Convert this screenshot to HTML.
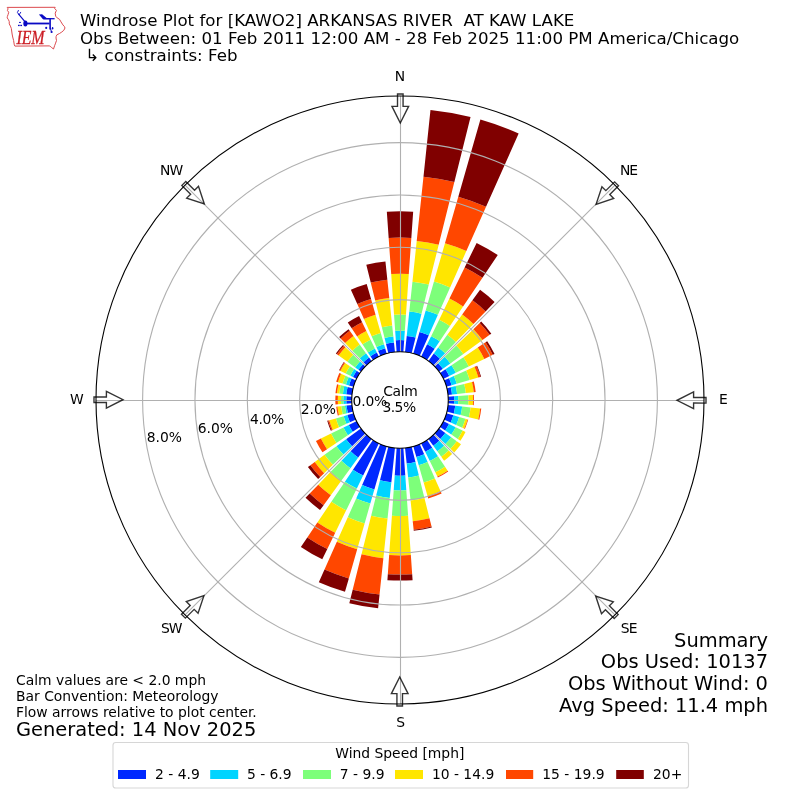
<!DOCTYPE html>
<html lang="en">
<head>
<meta charset="utf-8">
<title>Windrose Plot for [KAWO2] ARKANSAS RIVER AT KAW LAKE</title>
<style>
html,body{margin:0;padding:0;background:#fff;}
body{width:800px;height:800px;overflow:hidden;}
svg{display:block;}
text{font-family:"DejaVu Sans","Liberation Sans",sans-serif;fill:#000;}
.t10{font-size:13.89px;}
.t12{font-size:16.67px;}
.t14{font-size:19.44px;}
</style>
</head>
<body>
<svg width="800" height="800" viewBox="0 0 800 800">
<defs>
<path id="arw" d="M397.22,94 L402.78,94 L402.78,106.4 L408.33,106.4 L400,123 L391.67,106.4 L397.22,106.4 Z" fill="none" stroke="#000" stroke-opacity="0.8" stroke-width="1.39" stroke-linejoin="miter"/>
</defs>
<rect x="0" y="0" width="800" height="800" fill="#fff"/>
<!-- bars -->
<g shape-rendering="geometricPrecision">
<path d="M396.65,352.12L395.81,340.15A60.00,60.00 0 0 1 404.19,340.15L403.35,352.12A48.00,48.00 0 0 0 396.65,352.12Z" fill="#0028ff"/>
<path d="M395.81,340.15L395.17,330.87A69.30,69.30 0 0 1 404.83,330.87L404.19,340.15A60.00,60.00 0 0 0 395.81,340.15Z" fill="#00d4ff"/>
<path d="M395.17,330.87L394.04,314.81A85.40,85.40 0 0 1 405.96,314.81L404.83,330.87A69.30,69.30 0 0 0 395.17,330.87Z" fill="#7dff7a"/>
<path d="M394.04,314.81L391.20,274.11A126.20,126.20 0 0 1 408.80,274.11L405.96,314.81A85.40,85.40 0 0 0 394.04,314.81Z" fill="#ffe600"/>
<path d="M391.20,274.11L388.67,238.00A162.40,162.40 0 0 1 411.33,238.00L408.80,274.11A126.20,126.20 0 0 0 391.20,274.11Z" fill="#ff4700"/>
<path d="M388.67,238.00L386.83,211.66A188.80,188.80 0 0 1 413.17,211.66L411.33,238.00A162.40,162.40 0 0 0 388.67,238.00Z" fill="#800000"/>
<path d="M405.02,352.26L406.73,335.95A64.40,64.40 0 0 1 415.58,337.51L411.61,353.43A48.00,48.00 0 0 0 405.02,352.26Z" fill="#0028ff"/>
<path d="M406.73,335.95L409.30,311.49A89.00,89.00 0 0 1 421.53,313.64L415.58,337.51A64.40,64.40 0 0 0 406.73,335.95Z" fill="#00d4ff"/>
<path d="M409.30,311.49L412.44,281.65A119.00,119.00 0 0 1 428.79,284.53L421.53,313.64A89.00,89.00 0 0 0 409.30,311.49Z" fill="#7dff7a"/>
<path d="M412.44,281.65L416.71,240.98A159.90,159.90 0 0 1 438.68,244.85L428.79,284.53A119.00,119.00 0 0 0 412.44,281.65Z" fill="#ffe600"/>
<path d="M416.71,240.98L423.48,176.63A224.60,224.60 0 0 1 454.34,182.07L438.68,244.85A159.90,159.90 0 0 0 416.71,240.98Z" fill="#ff4700"/>
<path d="M423.48,176.63L430.48,110.00A291.60,291.60 0 0 1 470.54,117.06L454.34,182.07A224.60,224.60 0 0 0 423.48,176.63Z" fill="#800000"/>
<path d="M413.23,353.86L419.52,331.94A70.80,70.80 0 0 1 428.80,335.32L419.52,356.15A48.00,48.00 0 0 0 413.23,353.86Z" fill="#0028ff"/>
<path d="M419.52,331.94L425.69,310.41A93.20,93.20 0 0 1 437.91,314.86L428.80,335.32A70.80,70.80 0 0 0 419.52,331.94Z" fill="#00d4ff"/>
<path d="M425.69,310.41L433.96,281.57A123.20,123.20 0 0 1 450.11,287.45L437.91,314.86A93.20,93.20 0 0 0 425.69,310.41Z" fill="#7dff7a"/>
<path d="M433.96,281.57L444.96,243.22A163.10,163.10 0 0 1 466.34,251.00L450.11,287.45A123.20,123.20 0 0 0 433.96,281.57Z" fill="#ffe600"/>
<path d="M444.96,243.22L458.30,196.69A211.50,211.50 0 0 1 486.02,206.79L466.34,251.00A163.10,163.10 0 0 0 444.96,243.22Z" fill="#ff4700"/>
<path d="M458.30,196.69L480.40,119.60A291.70,291.70 0 0 1 518.65,133.52L486.02,206.79A211.50,211.50 0 0 0 458.30,196.69Z" fill="#800000"/>
<path d="M421.04,356.86L427.14,344.36A61.90,61.90 0 0 1 434.61,348.68L426.84,360.21A48.00,48.00 0 0 0 421.04,356.86Z" fill="#0028ff"/>
<path d="M427.14,344.36L431.12,336.19A71.00,71.00 0 0 1 439.70,341.14L434.61,348.68A61.90,61.90 0 0 0 427.14,344.36Z" fill="#00d4ff"/>
<path d="M431.12,336.19L439.15,319.74A89.30,89.30 0 0 1 449.94,325.97L439.70,341.14A71.00,71.00 0 0 0 431.12,336.19Z" fill="#7dff7a"/>
<path d="M439.15,319.74L449.45,298.62A112.80,112.80 0 0 1 463.08,306.48L449.94,325.97A89.30,89.30 0 0 0 439.15,319.74Z" fill="#ffe600"/>
<path d="M449.45,298.62L464.66,267.43A147.50,147.50 0 0 1 482.48,277.72L463.08,306.48A112.80,112.80 0 0 0 449.45,298.62Z" fill="#ff4700"/>
<path d="M464.66,267.43L476.63,242.89A174.80,174.80 0 0 1 497.75,255.08L482.48,277.72A147.50,147.50 0 0 0 464.66,267.43Z" fill="#800000"/>
<path d="M428.21,361.17L433.80,353.48A57.50,57.50 0 0 1 439.94,358.64L433.34,365.47A48.00,48.00 0 0 0 428.21,361.17Z" fill="#0028ff"/>
<path d="M433.80,353.48L438.21,347.41A65.00,65.00 0 0 1 445.15,353.24L439.94,358.64A57.50,57.50 0 0 0 433.80,353.48Z" fill="#00d4ff"/>
<path d="M438.21,347.41L447.32,334.87A80.50,80.50 0 0 1 455.92,342.09L445.15,353.24A65.00,65.00 0 0 0 438.21,347.41Z" fill="#7dff7a"/>
<path d="M447.32,334.87L462.19,314.41A105.80,105.80 0 0 1 473.49,323.89L455.92,342.09A80.50,80.50 0 0 0 447.32,334.87Z" fill="#ffe600"/>
<path d="M462.19,314.41L472.42,300.33A123.20,123.20 0 0 1 485.58,311.38L473.49,323.89A105.80,105.80 0 0 0 462.19,314.41Z" fill="#ff4700"/>
<path d="M472.42,300.33L480.06,289.81A136.20,136.20 0 0 1 494.61,302.03L485.58,311.38A123.20,123.20 0 0 0 472.42,300.33Z" fill="#800000"/>
<path d="M434.53,366.66L438.13,363.18A53.00,53.00 0 0 1 442.88,368.85L438.83,371.79A48.00,48.00 0 0 0 434.53,366.66Z" fill="#0028ff"/>
<path d="M438.13,363.18L444.74,356.79A62.20,62.20 0 0 1 450.32,363.44L442.88,368.85A53.00,53.00 0 0 0 438.13,363.18Z" fill="#00d4ff"/>
<path d="M444.74,356.79L456.32,345.61A78.30,78.30 0 0 1 463.35,353.98L450.32,363.44A62.20,62.20 0 0 0 444.74,356.79Z" fill="#7dff7a"/>
<path d="M456.32,345.61L473.37,329.14A102.00,102.00 0 0 1 482.52,340.05L463.35,353.98A78.30,78.30 0 0 0 456.32,345.61Z" fill="#ffe600"/>
<path d="M473.37,329.14L479.70,323.03A110.80,110.80 0 0 1 489.64,334.87L482.52,340.05A102.00,102.00 0 0 0 473.37,329.14Z" fill="#ff4700"/>
<path d="M479.70,323.03L481.21,321.57A112.90,112.90 0 0 1 491.34,333.64L489.64,334.87A110.80,110.80 0 0 0 479.70,323.03Z" fill="#800000"/>
<path d="M439.79,373.16L445.43,369.36A54.80,54.80 0 0 1 449.25,375.98L443.14,378.96A48.00,48.00 0 0 0 439.79,373.16Z" fill="#0028ff"/>
<path d="M445.43,369.36L451.48,365.27A62.10,62.10 0 0 1 455.82,372.78L449.25,375.98A54.80,54.80 0 0 0 445.43,369.36Z" fill="#00d4ff"/>
<path d="M451.48,365.27L463.42,357.22A76.50,76.50 0 0 1 468.76,366.46L455.82,372.78A62.10,62.10 0 0 0 451.48,365.27Z" fill="#7dff7a"/>
<path d="M463.42,357.22L477.76,347.55A93.80,93.80 0 0 1 484.31,358.88L468.76,366.46A76.50,76.50 0 0 0 463.42,357.22Z" fill="#ffe600"/>
<path d="M477.76,347.55L485.56,342.29A103.20,103.20 0 0 1 492.76,354.76L484.31,358.88A93.80,93.80 0 0 0 477.76,347.55Z" fill="#ff4700"/>
<path d="M485.56,342.29L487.21,341.17A105.20,105.20 0 0 1 494.55,353.88L492.76,354.76A103.20,103.20 0 0 0 485.56,342.29Z" fill="#800000"/>
<path d="M443.85,380.48L449.06,378.16A53.70,53.70 0 0 1 451.62,385.20L446.14,386.77A48.00,48.00 0 0 0 443.85,380.48Z" fill="#0028ff"/>
<path d="M449.06,378.16L453.90,376.00A59.00,59.00 0 0 1 456.71,383.74L451.62,385.20A53.70,53.70 0 0 0 449.06,378.16Z" fill="#00d4ff"/>
<path d="M453.90,376.00L466.23,370.51A72.50,72.50 0 0 1 469.69,380.02L456.71,383.74A59.00,59.00 0 0 0 453.90,376.00Z" fill="#7dff7a"/>
<path d="M466.23,370.51L474.45,366.85A81.50,81.50 0 0 1 478.34,377.54L469.69,380.02A72.50,72.50 0 0 0 466.23,370.51Z" fill="#ffe600"/>
<path d="M474.45,366.85L476.46,365.96A83.70,83.70 0 0 1 480.46,376.93L478.34,377.54A81.50,81.50 0 0 0 474.45,366.85Z" fill="#ff4700"/>
<path d="M476.46,365.96L477.10,365.67A84.40,84.40 0 0 1 481.13,376.74L480.46,376.93A83.70,83.70 0 0 0 476.46,365.96Z" fill="#800000"/>
<path d="M446.57,388.39L450.75,387.35A52.30,52.30 0 0 1 452.01,394.53L447.74,394.98A48.00,48.00 0 0 0 446.57,388.39Z" fill="#0028ff"/>
<path d="M450.75,387.35L455.69,386.11A57.40,57.40 0 0 1 457.09,394.00L452.01,394.53A52.30,52.30 0 0 0 450.75,387.35Z" fill="#00d4ff"/>
<path d="M455.69,386.11L464.23,383.98A66.20,66.20 0 0 1 465.84,393.08L457.09,394.00A57.40,57.40 0 0 0 455.69,386.11Z" fill="#7dff7a"/>
<path d="M464.23,383.98L472.00,382.05A74.20,74.20 0 0 1 473.79,392.24L465.84,393.08A66.20,66.20 0 0 0 464.23,383.98Z" fill="#ffe600"/>
<path d="M472.00,382.05L473.84,381.59A76.10,76.10 0 0 1 475.68,392.05L473.79,392.24A74.20,74.20 0 0 0 472.00,382.05Z" fill="#ff4700"/>
<path d="M447.88,396.65L454.07,396.22A54.20,54.20 0 0 1 454.07,403.78L447.88,403.35A48.00,48.00 0 0 0 447.88,396.65Z" fill="#0028ff"/>
<path d="M454.07,396.22L458.16,395.93A58.30,58.30 0 0 1 458.16,404.07L454.07,403.78A54.20,54.20 0 0 0 454.07,396.22Z" fill="#00d4ff"/>
<path d="M458.16,395.93L468.33,395.22A68.50,68.50 0 0 1 468.33,404.78L458.16,404.07A58.30,58.30 0 0 0 458.16,395.93Z" fill="#7dff7a"/>
<path d="M468.33,395.22L472.92,394.90A73.10,73.10 0 0 1 472.92,405.10L468.33,404.78A68.50,68.50 0 0 0 468.33,395.22Z" fill="#ffe600"/>
<path d="M472.92,394.90L473.82,394.84A74.00,74.00 0 0 1 473.82,405.16L472.92,405.10A73.10,73.10 0 0 0 472.92,394.90Z" fill="#ff4700"/>
<path d="M447.74,405.02L455.20,405.80A55.50,55.50 0 0 1 453.85,413.43L446.57,411.61A48.00,48.00 0 0 0 447.74,405.02Z" fill="#0028ff"/>
<path d="M455.20,405.80L462.16,406.53A62.50,62.50 0 0 1 460.64,415.12L453.85,413.43A55.50,55.50 0 0 0 455.20,405.80Z" fill="#00d4ff"/>
<path d="M462.16,406.53L470.61,407.42A71.00,71.00 0 0 1 468.89,417.18L460.64,415.12A62.50,62.50 0 0 0 462.16,406.53Z" fill="#7dff7a"/>
<path d="M470.61,407.42L480.16,408.42A80.60,80.60 0 0 1 478.21,419.50L468.89,417.18A71.00,71.00 0 0 0 470.61,407.42Z" fill="#ffe600"/>
<path d="M480.16,408.42L481.25,408.54A81.70,81.70 0 0 1 479.27,419.77L478.21,419.50A80.60,80.60 0 0 0 480.16,408.42Z" fill="#ff4700"/>
<path d="M446.14,413.23L453.35,415.30A55.50,55.50 0 0 1 450.70,422.57L443.85,419.52A48.00,48.00 0 0 0 446.14,413.23Z" fill="#0028ff"/>
<path d="M453.35,415.30L459.12,416.95A61.50,61.50 0 0 1 456.18,425.01L450.70,422.57A55.50,55.50 0 0 0 453.35,415.30Z" fill="#00d4ff"/>
<path d="M459.12,416.95L465.46,418.77A68.10,68.10 0 0 1 462.21,427.70L456.18,425.01A61.50,61.50 0 0 0 459.12,416.95Z" fill="#7dff7a"/>
<path d="M465.46,418.77L467.58,419.38A70.30,70.30 0 0 1 464.22,428.59L462.21,427.70A68.10,68.10 0 0 0 465.46,418.77Z" fill="#ffe600"/>
<path d="M467.58,419.38L468.25,419.57A71.00,71.00 0 0 1 464.86,428.88L464.22,428.59A70.30,70.30 0 0 0 467.58,419.38Z" fill="#ff4700"/>
<path d="M443.14,421.04L448.98,423.89A54.50,54.50 0 0 1 445.18,430.48L439.79,426.84A48.00,48.00 0 0 0 443.14,421.04Z" fill="#0028ff"/>
<path d="M448.98,423.89L455.64,427.14A61.90,61.90 0 0 1 451.32,434.61L445.18,430.48A54.50,54.50 0 0 0 448.98,423.89Z" fill="#00d4ff"/>
<path d="M455.64,427.14L462.65,430.55A69.70,69.70 0 0 1 457.78,438.98L451.32,434.61A61.90,61.90 0 0 0 455.64,427.14Z" fill="#7dff7a"/>
<path d="M462.65,430.55L465.52,431.96A72.90,72.90 0 0 1 460.44,440.77L457.78,438.98A69.70,69.70 0 0 0 462.65,430.55Z" fill="#ffe600"/>
<path d="M438.83,428.21L445.30,432.92A56.00,56.00 0 0 1 440.28,438.90L434.53,433.34A48.00,48.00 0 0 0 438.83,428.21Z" fill="#0028ff"/>
<path d="M445.30,432.92L451.21,437.21A63.30,63.30 0 0 1 445.53,443.97L440.28,438.90A56.00,56.00 0 0 0 445.30,432.92Z" fill="#00d4ff"/>
<path d="M451.21,437.21L456.79,441.26A70.20,70.20 0 0 1 450.50,448.77L445.53,443.97A63.30,63.30 0 0 0 451.21,437.21Z" fill="#7dff7a"/>
<path d="M456.79,441.26L461.00,444.32A75.40,75.40 0 0 1 454.24,452.38L450.50,448.77A70.20,70.20 0 0 0 456.79,441.26Z" fill="#ffe600"/>
<path d="M433.34,434.53L439.32,440.71A56.60,56.60 0 0 1 433.27,445.79L428.21,438.83A48.00,48.00 0 0 0 433.34,434.53Z" fill="#0028ff"/>
<path d="M439.32,440.71L444.11,445.68A63.50,63.50 0 0 1 437.32,451.37L433.27,445.79A56.60,56.60 0 0 0 439.32,440.71Z" fill="#00d4ff"/>
<path d="M444.11,445.68L448.77,450.50A70.20,70.20 0 0 1 441.26,456.79L437.32,451.37A63.50,63.50 0 0 0 444.11,445.68Z" fill="#7dff7a"/>
<path d="M448.77,450.50L452.10,453.95A75.00,75.00 0 0 1 444.08,460.68L441.26,456.79A70.20,70.20 0 0 0 448.77,450.50Z" fill="#ffe600"/>
<path d="M426.84,439.79L432.21,447.75A57.60,57.60 0 0 1 425.25,451.77L421.04,443.14A48.00,48.00 0 0 0 426.84,439.79Z" fill="#0028ff"/>
<path d="M432.21,447.75L437.97,456.29A67.90,67.90 0 0 1 429.77,461.03L425.25,451.77A57.60,57.60 0 0 0 432.21,447.75Z" fill="#00d4ff"/>
<path d="M437.97,456.29L445.02,466.74A80.50,80.50 0 0 1 435.29,472.35L429.77,461.03A67.90,67.90 0 0 0 437.97,456.29Z" fill="#7dff7a"/>
<path d="M445.02,466.74L447.64,470.63A85.20,85.20 0 0 1 437.35,476.58L435.29,472.35A80.50,80.50 0 0 0 445.02,466.74Z" fill="#ffe600"/>
<path d="M447.64,470.63L448.26,471.55A86.30,86.30 0 0 1 437.83,477.57L437.35,476.58A85.20,85.20 0 0 0 447.64,470.63Z" fill="#ff4700"/>
<path d="M419.52,443.85L424.16,454.26A59.40,59.40 0 0 1 416.37,457.10L413.23,446.14A48.00,48.00 0 0 0 419.52,443.85Z" fill="#0028ff"/>
<path d="M424.16,454.26L427.62,462.03A67.90,67.90 0 0 1 418.72,465.27L416.37,457.10A59.40,59.40 0 0 0 424.16,454.26Z" fill="#00d4ff"/>
<path d="M427.62,462.03L434.90,478.38A85.80,85.80 0 0 1 423.65,482.48L418.72,465.27A67.90,67.90 0 0 0 427.62,462.03Z" fill="#7dff7a"/>
<path d="M434.90,478.38L440.59,491.17A99.80,99.80 0 0 1 427.51,495.93L423.65,482.48A85.80,85.80 0 0 0 434.90,478.38Z" fill="#ffe600"/>
<path d="M440.59,491.17L441.65,493.55A102.40,102.40 0 0 1 428.23,498.43L427.51,495.93A99.80,99.80 0 0 0 440.59,491.17Z" fill="#ff4700"/>
<path d="M411.61,446.57L415.46,462.00A63.90,63.90 0 0 1 406.68,463.55L405.02,447.74A48.00,48.00 0 0 0 411.61,446.57Z" fill="#0028ff"/>
<path d="M415.46,462.00L418.85,475.59A77.90,77.90 0 0 1 408.14,477.47L406.68,463.55A63.90,63.90 0 0 0 415.46,462.00Z" fill="#00d4ff"/>
<path d="M418.85,475.59L424.43,498.00A101.00,101.00 0 0 1 410.56,500.45L408.14,477.47A77.90,77.90 0 0 0 418.85,475.59Z" fill="#7dff7a"/>
<path d="M424.43,498.00L429.47,518.18A121.80,121.80 0 0 1 412.73,521.13L410.56,500.45A101.00,101.00 0 0 0 424.43,498.00Z" fill="#ffe600"/>
<path d="M429.47,518.18L431.57,526.62A130.50,130.50 0 0 1 413.64,529.79L412.73,521.13A121.80,121.80 0 0 0 429.47,518.18Z" fill="#ff4700"/>
<path d="M431.57,526.62L431.81,527.59A131.50,131.50 0 0 1 413.75,530.78L413.64,529.79A130.50,130.50 0 0 0 431.57,526.62Z" fill="#800000"/>
<path d="M403.35,447.88L405.28,475.52A75.70,75.70 0 0 1 394.72,475.52L396.65,447.88A48.00,48.00 0 0 0 403.35,447.88Z" fill="#0028ff"/>
<path d="M405.28,475.52L406.31,490.18A90.40,90.40 0 0 1 393.69,490.18L394.72,475.52A75.70,75.70 0 0 0 405.28,475.52Z" fill="#00d4ff"/>
<path d="M406.31,490.18L408.09,515.72A116.00,116.00 0 0 1 391.91,515.72L393.69,490.18A90.40,90.40 0 0 0 406.31,490.18Z" fill="#7dff7a"/>
<path d="M408.09,515.72L410.84,555.02A155.40,155.40 0 0 1 389.16,555.02L391.91,515.72A116.00,116.00 0 0 0 408.09,515.72Z" fill="#ffe600"/>
<path d="M410.84,555.02L412.18,574.17A174.60,174.60 0 0 1 387.82,574.17L389.16,555.02A155.40,155.40 0 0 0 410.84,555.02Z" fill="#ff4700"/>
<path d="M412.18,574.17L412.60,580.16A180.60,180.60 0 0 1 387.40,580.16L387.82,574.17A174.60,174.60 0 0 0 412.18,574.17Z" fill="#800000"/>
<path d="M394.98,447.74L391.36,482.25A82.70,82.70 0 0 1 379.99,480.24L388.39,446.57A48.00,48.00 0 0 0 394.98,447.74Z" fill="#0028ff"/>
<path d="M391.36,482.25L389.70,497.96A98.50,98.50 0 0 1 376.17,495.57L379.99,480.24A82.70,82.70 0 0 0 391.36,482.25Z" fill="#00d4ff"/>
<path d="M389.70,497.96L387.54,518.55A119.20,119.20 0 0 1 371.16,515.66L376.17,495.57A98.50,98.50 0 0 0 389.70,497.96Z" fill="#7dff7a"/>
<path d="M387.54,518.55L383.38,558.13A159.00,159.00 0 0 1 361.53,554.28L371.16,515.66A119.20,119.20 0 0 0 387.54,518.55Z" fill="#ffe600"/>
<path d="M383.38,558.13L379.55,594.53A195.60,195.60 0 0 1 352.68,589.79L361.53,554.28A159.00,159.00 0 0 0 383.38,558.13Z" fill="#ff4700"/>
<path d="M379.55,594.53L378.10,608.35A209.50,209.50 0 0 1 349.32,603.28L352.68,589.79A195.60,195.60 0 0 0 379.55,594.53Z" fill="#800000"/>
<path d="M386.77,446.14L374.34,489.49A93.10,93.10 0 0 1 362.13,485.05L380.48,443.85A48.00,48.00 0 0 0 386.77,446.14Z" fill="#0028ff"/>
<path d="M374.34,489.49L370.31,503.53A107.70,107.70 0 0 1 356.19,498.39L362.13,485.05A93.10,93.10 0 0 0 374.34,489.49Z" fill="#00d4ff"/>
<path d="M370.31,503.53L364.61,523.43A128.40,128.40 0 0 1 347.78,517.30L356.19,498.39A107.70,107.70 0 0 0 370.31,503.53Z" fill="#7dff7a"/>
<path d="M364.61,523.43L357.19,549.28A155.30,155.30 0 0 1 336.83,541.87L347.78,517.30A128.40,128.40 0 0 0 364.61,523.43Z" fill="#ffe600"/>
<path d="M357.19,549.28L348.84,578.41A185.60,185.60 0 0 1 324.51,569.55L336.83,541.87A155.30,155.30 0 0 0 357.19,549.28Z" fill="#ff4700"/>
<path d="M348.84,578.41L344.98,591.87A199.60,199.60 0 0 1 318.82,582.34L324.51,569.55A185.60,185.60 0 0 0 348.84,578.41Z" fill="#800000"/>
<path d="M378.96,443.14L363.13,475.59A84.10,84.10 0 0 1 352.97,469.72L373.16,439.79A48.00,48.00 0 0 0 378.96,443.14Z" fill="#0028ff"/>
<path d="M363.13,475.59L356.82,488.53A98.50,98.50 0 0 1 344.92,481.66L352.97,469.72A84.10,84.10 0 0 0 363.13,475.59Z" fill="#00d4ff"/>
<path d="M356.82,488.53L346.17,510.37A122.80,122.80 0 0 1 331.33,501.81L344.92,481.66A98.50,98.50 0 0 0 356.82,488.53Z" fill="#7dff7a"/>
<path d="M346.17,510.37L335.21,532.84A147.80,147.80 0 0 1 317.35,522.53L331.33,501.81A122.80,122.80 0 0 0 346.17,510.37Z" fill="#ffe600"/>
<path d="M335.21,532.84L327.32,549.02A165.80,165.80 0 0 1 307.29,537.45L317.35,522.53A147.80,147.80 0 0 0 335.21,532.84Z" fill="#ff4700"/>
<path d="M327.32,549.02L322.28,559.36A177.30,177.30 0 0 1 300.86,546.99L307.29,537.45A165.80,165.80 0 0 0 327.32,549.02Z" fill="#800000"/>
<path d="M371.79,438.83L358.21,457.52A71.10,71.10 0 0 1 350.61,451.15L366.66,434.53A48.00,48.00 0 0 0 371.79,438.83Z" fill="#0028ff"/>
<path d="M358.21,457.52L350.45,468.20A84.30,84.30 0 0 1 341.44,460.64L350.61,451.15A71.10,71.10 0 0 0 358.21,457.52Z" fill="#00d4ff"/>
<path d="M350.45,468.20L341.28,480.82A99.90,99.90 0 0 1 330.60,471.86L341.44,460.64A84.30,84.30 0 0 0 350.45,468.20Z" fill="#7dff7a"/>
<path d="M341.28,480.82L330.82,495.22A117.70,117.70 0 0 1 318.24,484.67L330.60,471.86A99.90,99.90 0 0 0 341.28,480.82Z" fill="#ffe600"/>
<path d="M330.82,495.22L323.59,505.17A130.00,130.00 0 0 1 309.69,493.51L318.24,484.67A117.70,117.70 0 0 0 330.82,495.22Z" fill="#ff4700"/>
<path d="M323.59,505.17L320.06,510.03A136.00,136.00 0 0 1 305.53,497.83L309.69,493.51A130.00,130.00 0 0 0 323.59,505.17Z" fill="#800000"/>
<path d="M365.47,433.34L352.09,446.26A66.60,66.60 0 0 1 346.12,439.15L361.17,428.21A48.00,48.00 0 0 0 365.47,433.34Z" fill="#0028ff"/>
<path d="M352.09,446.26L343.46,454.60A78.60,78.60 0 0 1 336.41,446.20L346.12,439.15A66.60,66.60 0 0 0 352.09,446.26Z" fill="#00d4ff"/>
<path d="M343.46,454.60L332.89,464.81A93.30,93.30 0 0 1 324.52,454.84L336.41,446.20A78.60,78.60 0 0 0 343.46,454.60Z" fill="#7dff7a"/>
<path d="M332.89,464.81L324.18,473.22A105.40,105.40 0 0 1 314.73,461.95L324.52,454.84A93.30,93.30 0 0 0 332.89,464.81Z" fill="#ffe600"/>
<path d="M324.18,473.22L320.30,476.97A110.80,110.80 0 0 1 310.36,465.13L314.73,461.95A105.40,105.40 0 0 0 324.18,473.22Z" fill="#ff4700"/>
<path d="M320.30,476.97L318.14,479.05A113.80,113.80 0 0 1 307.93,466.89L310.36,465.13A110.80,110.80 0 0 0 320.30,476.97Z" fill="#800000"/>
<path d="M360.21,426.84L352.74,431.87A57.00,57.00 0 0 1 348.77,424.99L356.86,421.04A48.00,48.00 0 0 0 360.21,426.84Z" fill="#0028ff"/>
<path d="M352.74,431.87L347.85,435.17A62.90,62.90 0 0 1 343.47,427.57L348.77,424.99A57.00,57.00 0 0 0 352.74,431.87Z" fill="#00d4ff"/>
<path d="M347.85,435.17L336.41,442.89A76.70,76.70 0 0 1 331.06,433.62L343.47,427.57A62.90,62.90 0 0 0 347.85,435.17Z" fill="#7dff7a"/>
<path d="M336.41,442.89L327.04,449.21A88.00,88.00 0 0 1 320.91,438.58L331.06,433.62A76.70,76.70 0 0 0 336.41,442.89Z" fill="#ffe600"/>
<path d="M327.04,449.21L322.48,452.28A93.50,93.50 0 0 1 315.96,440.99L320.91,438.58A88.00,88.00 0 0 0 327.04,449.21Z" fill="#ff4700"/>
<path d="M356.15,419.52L349.94,422.29A54.80,54.80 0 0 1 347.32,415.10L353.86,413.23A48.00,48.00 0 0 0 356.15,419.52Z" fill="#0028ff"/>
<path d="M349.94,422.29L346.47,423.83A58.60,58.60 0 0 1 343.67,416.15L347.32,415.10A54.80,54.80 0 0 0 349.94,422.29Z" fill="#00d4ff"/>
<path d="M346.47,423.83L339.07,427.13A66.70,66.70 0 0 1 335.88,418.39L343.67,416.15A58.60,58.60 0 0 0 346.47,423.83Z" fill="#7dff7a"/>
<path d="M339.07,427.13L332.76,429.94A73.60,73.60 0 0 1 329.25,420.29L335.88,418.39A66.70,66.70 0 0 0 339.07,427.13Z" fill="#ffe600"/>
<path d="M332.76,429.94L331.67,430.42A74.80,74.80 0 0 1 328.10,420.62L329.25,420.29A73.60,73.60 0 0 0 332.76,429.94Z" fill="#ff4700"/>
<path d="M331.67,430.42L330.84,430.79A75.70,75.70 0 0 1 327.23,420.87L328.10,420.62A74.80,74.80 0 0 0 331.67,430.42Z" fill="#800000"/>
<path d="M353.43,411.61L347.85,413.00A53.75,53.75 0 0 1 346.54,405.62L352.26,405.02A48.00,48.00 0 0 0 353.43,411.61Z" fill="#0028ff"/>
<path d="M347.85,413.00L346.34,413.38A55.30,55.30 0 0 1 345.00,405.78L346.54,405.62A53.75,53.75 0 0 0 347.85,413.00Z" fill="#00d4ff"/>
<path d="M346.34,413.38L342.66,414.30A59.10,59.10 0 0 1 341.22,406.18L345.00,405.78A55.30,55.30 0 0 0 346.34,413.38Z" fill="#7dff7a"/>
<path d="M342.66,414.30L338.97,415.22A62.90,62.90 0 0 1 337.44,406.57L341.22,406.18A59.10,59.10 0 0 0 342.66,414.30Z" fill="#ffe600"/>
<path d="M338.97,415.22L337.80,415.51A64.10,64.10 0 0 1 336.25,406.70L337.44,406.57A62.90,62.90 0 0 0 338.97,415.22Z" fill="#ff4700"/>
<path d="M352.12,403.35L346.43,403.75A53.70,53.70 0 0 1 346.43,396.25L352.12,396.65A48.00,48.00 0 0 0 352.12,403.35Z" fill="#0028ff"/>
<path d="M346.43,403.75L343.44,403.96A56.70,56.70 0 0 1 343.44,396.04L346.43,396.25A53.70,53.70 0 0 0 346.43,403.75Z" fill="#00d4ff"/>
<path d="M343.44,403.96L341.14,404.12A59.00,59.00 0 0 1 341.14,395.88L343.44,396.04A56.70,56.70 0 0 0 343.44,403.96Z" fill="#7dff7a"/>
<path d="M341.14,404.12L337.95,404.34A62.20,62.20 0 0 1 337.95,395.66L341.14,395.88A59.00,59.00 0 0 0 341.14,404.12Z" fill="#ffe600"/>
<path d="M337.95,404.34L335.46,404.51A64.70,64.70 0 0 1 335.46,395.49L337.95,395.66A62.20,62.20 0 0 0 337.95,404.34Z" fill="#ff4700"/>
<path d="M352.26,394.98L346.30,394.36A54.00,54.00 0 0 1 347.60,386.94L353.43,388.39A48.00,48.00 0 0 0 352.26,394.98Z" fill="#0028ff"/>
<path d="M346.30,394.36L342.91,394.00A57.40,57.40 0 0 1 344.31,386.11L347.60,386.94A54.00,54.00 0 0 0 346.30,394.36Z" fill="#00d4ff"/>
<path d="M342.91,394.00L339.33,393.62A61.00,61.00 0 0 1 340.81,385.24L344.31,386.11A57.40,57.40 0 0 0 342.91,394.00Z" fill="#7dff7a"/>
<path d="M339.33,393.62L336.95,393.37A63.40,63.40 0 0 1 338.48,384.66L340.81,385.24A61.00,61.00 0 0 0 339.33,393.62Z" fill="#ffe600"/>
<path d="M336.95,393.37L335.46,393.22A64.90,64.90 0 0 1 337.03,384.30L338.48,384.66A63.40,63.40 0 0 0 336.95,393.37Z" fill="#ff4700"/>
<path d="M353.86,386.77L349.05,385.39A53.00,53.00 0 0 1 351.58,378.44L356.15,380.48A48.00,48.00 0 0 0 353.86,386.77Z" fill="#0028ff"/>
<path d="M349.05,385.39L345.98,384.51A56.20,56.20 0 0 1 348.66,377.14L351.58,378.44A53.00,53.00 0 0 0 349.05,385.39Z" fill="#00d4ff"/>
<path d="M345.98,384.51L342.52,383.52A59.80,59.80 0 0 1 345.37,375.68L348.66,377.14A56.20,56.20 0 0 0 345.98,384.51Z" fill="#7dff7a"/>
<path d="M342.52,383.52L338.00,382.22A64.50,64.50 0 0 1 341.08,373.77L345.37,375.68A59.80,59.80 0 0 0 342.52,383.52Z" fill="#ffe600"/>
<path d="M338.00,382.22L336.17,381.70A66.40,66.40 0 0 1 339.34,372.99L341.08,373.77A64.50,64.50 0 0 0 338.00,382.22Z" fill="#ff4700"/>
<path d="M356.86,378.96L352.99,377.07A52.30,52.30 0 0 1 356.64,370.75L360.21,373.16A48.00,48.00 0 0 0 356.86,378.96Z" fill="#0028ff"/>
<path d="M352.99,377.07L350.30,375.76A55.30,55.30 0 0 1 354.15,369.08L356.64,370.75A52.30,52.30 0 0 0 352.99,377.07Z" fill="#00d4ff"/>
<path d="M350.30,375.76L345.71,373.52A60.40,60.40 0 0 1 349.93,366.22L354.15,369.08A55.30,55.30 0 0 0 350.30,375.76Z" fill="#7dff7a"/>
<path d="M345.71,373.52L340.41,370.94A66.30,66.30 0 0 1 345.03,362.93L349.93,366.22A60.40,60.40 0 0 0 345.71,373.52Z" fill="#ffe600"/>
<path d="M340.41,370.94L339.51,370.50A67.30,67.30 0 0 1 344.21,362.37L345.03,362.93A66.30,66.30 0 0 0 340.41,370.94Z" fill="#ff4700"/>
<path d="M339.51,370.50L339.06,370.28A67.80,67.80 0 0 1 343.79,362.09L344.21,362.37A67.30,67.30 0 0 0 339.51,370.50Z" fill="#800000"/>
<path d="M361.17,371.79L358.42,369.79A51.40,51.40 0 0 1 363.03,364.29L365.47,366.66A48.00,48.00 0 0 0 361.17,371.79Z" fill="#0028ff"/>
<path d="M358.42,369.79L355.10,367.38A55.50,55.50 0 0 1 360.08,361.45L363.03,364.29A51.40,51.40 0 0 0 358.42,369.79Z" fill="#00d4ff"/>
<path d="M355.10,367.38L347.41,361.79A65.00,65.00 0 0 1 353.24,354.85L360.08,361.45A55.50,55.50 0 0 0 355.10,367.38Z" fill="#7dff7a"/>
<path d="M347.41,361.79L338.68,355.45A75.80,75.80 0 0 1 345.47,347.34L353.24,354.85A65.00,65.00 0 0 0 347.41,361.79Z" fill="#ffe600"/>
<path d="M338.68,355.45L336.90,354.15A78.00,78.00 0 0 1 343.89,345.82L345.47,347.34A75.80,75.80 0 0 0 338.68,355.45Z" fill="#ff4700"/>
<path d="M336.90,354.15L335.84,353.39A79.30,79.30 0 0 1 342.96,344.91L343.89,345.82A78.00,78.00 0 0 0 336.90,354.15Z" fill="#800000"/>
<path d="M366.66,365.47L363.46,362.16A52.60,52.60 0 0 1 369.08,357.45L371.79,361.17A48.00,48.00 0 0 0 366.66,365.47Z" fill="#0028ff"/>
<path d="M363.46,362.16L359.78,358.35A57.90,57.90 0 0 1 365.97,353.16L369.08,357.45A52.60,52.60 0 0 0 363.46,362.16Z" fill="#00d4ff"/>
<path d="M359.78,358.35L352.35,350.65A68.60,68.60 0 0 1 359.68,344.50L365.97,353.16A57.90,57.90 0 0 0 359.78,358.35Z" fill="#7dff7a"/>
<path d="M352.35,350.65L345.05,343.10A79.10,79.10 0 0 1 353.51,336.01L359.68,344.50A68.60,68.60 0 0 0 352.35,350.65Z" fill="#ffe600"/>
<path d="M345.05,343.10L340.54,338.42A85.60,85.60 0 0 1 349.69,330.75L353.51,336.01A79.10,79.10 0 0 0 345.05,343.10Z" fill="#ff4700"/>
<path d="M340.54,338.42L339.15,336.99A87.60,87.60 0 0 1 348.51,329.13L349.69,330.75A85.60,85.60 0 0 0 340.54,338.42Z" fill="#800000"/>
<path d="M373.16,360.21L370.42,356.14A52.90,52.90 0 0 1 376.81,352.45L378.96,356.86A48.00,48.00 0 0 0 373.16,360.21Z" fill="#0028ff"/>
<path d="M370.42,356.14L367.90,352.41A57.40,57.40 0 0 1 374.84,348.41L376.81,352.45A52.90,52.90 0 0 0 370.42,356.14Z" fill="#00d4ff"/>
<path d="M367.90,352.41L362.48,344.37A67.10,67.10 0 0 1 370.59,339.69L374.84,348.41A57.40,57.40 0 0 0 367.90,352.41Z" fill="#7dff7a"/>
<path d="M362.48,344.37L357.11,336.41A76.70,76.70 0 0 1 366.38,331.06L370.59,339.69A67.10,67.10 0 0 0 362.48,344.37Z" fill="#ffe600"/>
<path d="M357.11,336.41L351.69,328.37A86.40,86.40 0 0 1 362.12,322.34L366.38,331.06A76.70,76.70 0 0 0 357.11,336.41Z" fill="#ff4700"/>
<path d="M351.69,328.37L347.77,322.57A93.40,93.40 0 0 1 359.06,316.05L362.12,322.34A86.40,86.40 0 0 0 351.69,328.37Z" fill="#800000"/>
<path d="M380.48,356.15L378.08,350.76A53.90,53.90 0 0 1 385.14,348.19L386.77,353.86A48.00,48.00 0 0 0 380.48,356.15Z" fill="#0028ff"/>
<path d="M378.08,350.76L376.41,347.01A58.00,58.00 0 0 1 384.01,344.25L385.14,348.19A53.90,53.90 0 0 0 378.08,350.76Z" fill="#00d4ff"/>
<path d="M376.41,347.01L371.65,336.33A69.70,69.70 0 0 1 380.79,333.00L384.01,344.25A58.00,58.00 0 0 0 376.41,347.01Z" fill="#7dff7a"/>
<path d="M371.65,336.33L363.92,318.97A88.70,88.70 0 0 1 375.55,314.74L380.79,333.00A69.70,69.70 0 0 0 371.65,336.33Z" fill="#ffe600"/>
<path d="M363.92,318.97L357.29,304.08A105.00,105.00 0 0 1 371.06,299.07L375.55,314.74A88.70,88.70 0 0 0 363.92,318.97Z" fill="#ff4700"/>
<path d="M357.29,304.08L350.87,289.64A120.80,120.80 0 0 1 366.70,283.88L371.06,299.07A105.00,105.00 0 0 0 357.29,304.08Z" fill="#800000"/>
<path d="M388.39,353.43L385.99,343.82A57.90,57.90 0 0 1 393.95,342.42L394.98,352.26A48.00,48.00 0 0 0 388.39,353.43Z" fill="#0028ff"/>
<path d="M385.99,343.82L384.57,338.10A63.80,63.80 0 0 1 393.33,336.55L393.95,342.42A57.90,57.90 0 0 0 385.99,343.82Z" fill="#00d4ff"/>
<path d="M384.57,338.10L381.88,327.32A74.90,74.90 0 0 1 392.17,325.51L393.33,336.55A63.80,63.80 0 0 0 384.57,338.10Z" fill="#7dff7a"/>
<path d="M381.88,327.32L375.20,300.54A102.50,102.50 0 0 1 389.29,298.06L392.17,325.51A74.90,74.90 0 0 0 381.88,327.32Z" fill="#ffe600"/>
<path d="M375.20,300.54L370.73,282.59A121.00,121.00 0 0 1 387.35,279.66L389.29,298.06A102.50,102.50 0 0 0 375.20,300.54Z" fill="#ff4700"/>
<path d="M370.73,282.59L366.30,264.84A139.30,139.30 0 0 1 385.44,261.46L387.35,279.66A121.00,121.00 0 0 0 370.73,282.59Z" fill="#800000"/>
</g>
<!-- grid -->
<g fill="none" stroke="#b0b0b0" stroke-width="1.11"><circle cx="400" cy="400" r="100.35" /><circle cx="400" cy="400" r="152.7" /><circle cx="400" cy="400" r="205.05" /><circle cx="400" cy="400" r="257.4" /><line x1="400.50" y1="352.00" x2="400.50" y2="96.00"/><line x1="433.94" y1="366.06" x2="614.96" y2="185.04"/><line x1="448.00" y1="400.50" x2="704.00" y2="400.50"/><line x1="433.94" y1="433.94" x2="614.96" y2="614.96"/><line x1="400.50" y1="448.00" x2="400.50" y2="704.00"/><line x1="366.06" y1="433.94" x2="185.04" y2="614.96"/><line x1="352.00" y1="400.50" x2="96.00" y2="400.50"/><line x1="366.06" y1="366.06" x2="185.04" y2="185.04"/></g>
<!-- calm circle -->
<circle cx="400" cy="400" r="48.3" fill="#fff" stroke="#000" stroke-width="1.11"/>
<!-- outer spine -->
<circle cx="400" cy="400" r="304" fill="none" stroke="#000" stroke-width="1.11"/>
<!-- arrows -->
<use href="#arw" transform="rotate(0.056 400 400)"/><use href="#arw" transform="rotate(45.056 400 400)"/><use href="#arw" transform="rotate(90.056 400 400)"/><use href="#arw" transform="rotate(135.056 400 400)"/><use href="#arw" transform="rotate(180.056 400 400)"/><use href="#arw" transform="rotate(225.056 400 400)"/><use href="#arw" transform="rotate(270.056 400 400)"/><use href="#arw" transform="rotate(315.056 400 400)"/>
<!-- compass labels -->
<g class="t10"><text x="400" y="80.6" text-anchor="middle">N</text><text x="628.5" y="175.15" text-anchor="middle" style="letter-spacing:-1.0px">NE</text><text x="723.5" y="403.95" text-anchor="middle">E</text><text x="628.75" y="632.8" text-anchor="middle" style="letter-spacing:-0.85px">SE</text><text x="400.55" y="726.5" text-anchor="middle">S</text><text x="171.25" y="632.8" text-anchor="middle" style="letter-spacing:-0.95px">SW</text><text x="76.8" y="404.0" text-anchor="middle">W</text><text x="171.25" y="175.15" text-anchor="middle" style="letter-spacing:-0.75px">NW</text></g>
<!-- radial labels -->
<g class="t10" text-anchor="middle">
<text x="400.33" y="396" style="letter-spacing:-0.33px">Calm</text>
<text x="399" y="412" style="letter-spacing:-0.5px">3.5%</text>
<text x="369.85" y="405.5" style="letter-spacing:-0.2px">0.0%</text>
<text x="318.4" y="414">2.0%</text>
<text x="267" y="424" style="letter-spacing:-0.33px">4.0%</text>
<text x="215.4" y="433">6.0%</text>
<text x="164.4" y="442">8.0%</text>
</g>
<!-- titles -->
<g class="t12">
<text x="80" y="25.8" xml:space="preserve">Windrose Plot for [KAWO2] ARKANSAS RIVER  AT KAW LAKE</text>
<text x="80" y="43.6">Obs Between: 01 Feb 2011 12:00 AM - 28 Feb 2025 11:00 PM America/Chicago</text>
<text x="80" y="60.8" xml:space="preserve"> ↳ constraints: Feb</text>
</g>
<!-- logo -->
<g id="logo">
<path d="M7.2,7.4 L55.2,7.3 L54.6,8.3 L56.4,10.4 L55.2,13.2 L55.7,16.2 L57.2,17.9 L59.5,19.3 L61,21.9 L62.9,24.9 L64.4,26.5 L65,28 L63.8,30.3 L61.8,32 L59.5,33.5 L56.9,34.8 L56.1,36.5 L56,38 L56.5,40.5 L55.6,43.1 L54.6,45.7 L53.5,49 L51.7,47.6 L50.2,46.3 L49.3,45.9 L14.9,46.1 L14.3,44.9 L13.6,40.5 L12.7,37 L12.1,34 L11.7,31 L11.3,28.4 L10.4,26.1 L9.25,23.9 L9.25,21.6 L8.5,19.75 L7.2,17.9 L7.4,16.4 L8.1,14.5 L8.7,12.25 L7.4,10.4 L8.1,8.9 Z" fill="#fff" stroke="#dc4a4e" stroke-width="1" stroke-linejoin="round"/>
<g stroke="#0a0ac4" fill="#0a0ac4" stroke-linecap="round">
<line x1="25.3" y1="23.5" x2="49.6" y2="23.5" stroke-width="1.8" stroke-linecap="butt"/>
<ellipse cx="25.4" cy="23.5" rx="2.1" ry="2.9" stroke="none"/>
<line x1="24.5" y1="21.2" x2="18.6" y2="14.1" stroke-width="1.2"/>
<path d="M18.6,14.1 L17.4,12.5 L18.4,10.4" fill="none" stroke-width="0.9"/>
<line x1="19.3" y1="14.6" x2="20.7" y2="12.3" stroke-width="0.9"/>
<path d="M38.9,14.4 L42.1,14.2 L46.6,17.9 L49,18 L49,19.3 L43,19.2 Z" stroke="none"/>
<line x1="43.4" y1="18.7" x2="54.6" y2="18.7" stroke-width="1.3" stroke-linecap="butt"/>
<line x1="50.1" y1="18" x2="50.1" y2="29.4" stroke-width="1.6" stroke-linecap="butt"/>
<line x1="50.3" y1="28" x2="51.4" y2="31.5" stroke-width="1"/>
<circle cx="46.2" cy="27.9" r="1.05" stroke="none"/>
<ellipse cx="52.6" cy="28.2" rx="0.8" ry="1.3" stroke="none"/>
<circle cx="51.6" cy="32" r="1.1" stroke="none"/>
<rect x="18" y="24.8" width="1.7" height="1.3" stroke="none"/>
<rect x="20.3" y="24.8" width="1.7" height="1.3" stroke="none"/>
<rect x="19.1" y="21.9" width="1.7" height="1.1" stroke="none"/>
</g>
<text x="16.4" y="43.75" textLength="28.2" lengthAdjust="spacingAndGlyphs" style='font-family:"Liberation Serif","DejaVu Serif",serif;font-style:italic;font-size:18.1px;fill:#cc1f26;stroke:#cc1f26;stroke-width:0.3px;'>IEM</text>
</g>
<!-- bottom-left notes -->
<g class="t10">
<text x="16" y="685.2">Calm values are &lt; 2.0 mph</text>
<text x="16" y="701.2">Bar Convention: Meteorology</text>
<text x="16" y="717.2">Flow arrows relative to plot center.</text>
</g>
<text class="t14" x="16" y="736.3">Generated: 14 Nov 2025</text>
<!-- summary -->
<g class="t14" text-anchor="end">
<text x="768" y="646.7">Summary</text>
<text x="768" y="668">Obs Used: 10137</text>
<text x="768" y="689.8">Obs Without Wind: 0</text>
<text x="768" y="711.6">Avg Speed: 11.4 mph</text>
</g>
<!-- legend -->
<rect x="113" y="742.5" width="575.5" height="45.5" rx="2.8" ry="2.8" fill="#fff" fill-opacity="0.8" stroke="#ccc" stroke-opacity="0.8" stroke-width="1.11"/>
<g class="t10">
<text x="399.8" y="757.6" text-anchor="middle">Wind Speed [mph]</text>
<rect x="118" y="770" width="28" height="9" fill="#0028ff"/>
<text x="155.0" y="779">2 - 4.9</text>
<rect x="210.2" y="770" width="28" height="9" fill="#00d4ff"/>
<text x="246.9" y="779">5 - 6.9</text>
<rect x="303" y="770" width="28" height="9" fill="#7dff7a"/>
<text x="339.8" y="779">7 - 9.9</text>
<rect x="395" y="770" width="28" height="9" fill="#ffe600"/>
<text x="431.9" y="779">10 - 14.9</text>
<rect x="506" y="770" width="27.2" height="9" fill="#ff4700"/>
<text x="542.3" y="779">15 - 19.9</text>
<rect x="616.2" y="770" width="27.6" height="9" fill="#800000"/>
<text x="653" y="779">20+</text>
</g>
</svg>
</body>
</html>
